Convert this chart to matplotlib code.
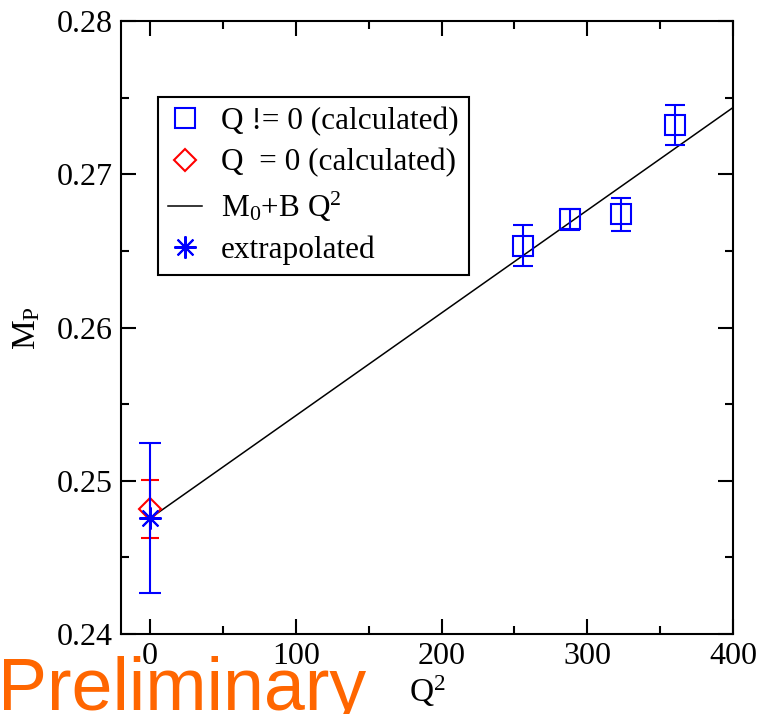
import matplotlib.pyplot as plt
from matplotlib.lines import Line2D
import numpy as np

# data
q2_calc = [256.0, 288.5, 323.5, 360.5]
mp_calc = [0.26535, 0.26705, 0.26738, 0.27320]
mp_calc_err = [0.00133, 0.00070, 0.00110, 0.00130]

q2_zero = [0.0]
mp_zero = [0.24815]
mp_zero_err = [0.00190]

q2_extrap = [0.0]
mp_extrap = [0.24755]
mp_extrap_err = [0.00490]

fit_m0 = 0.24755
fit_b = 6.70e-5
fit_q2 = [0.0, 400.0]

plt.rcParams['font.family'] = ['Liberation Serif', 'DejaVu Serif']
plt.rcParams['mathtext.fontset'] = 'custom'
plt.rcParams['mathtext.rm'] = 'Liberation Serif'
plt.rcParams['mathtext.it'] = 'Liberation Serif:italic'

fig = plt.figure(figsize=(7.59, 7.14), dpi=100)
ax = fig.add_axes([0.1594, 0.1120, 0.8063, 0.8586])

blue = '#0000ff'
red = '#ff0000'

# fit line
fit_y = [fit_m0 + fit_b * q for q in fit_q2]
ax.plot(fit_q2, fit_y, color='black', linewidth=1.1, zorder=2)

# calculated points with Q != 0
ax.errorbar(q2_calc, mp_calc, yerr=mp_calc_err, fmt='s', color=blue,
            markerfacecolor='none', markeredgewidth=1.5, markersize=14.5,
            elinewidth=1.5, capsize=7.5, capthick=1.5, zorder=3)

# calculated Q = 0
ax.errorbar(q2_zero, mp_zero, yerr=mp_zero_err, fmt='D', color=red,
            markerfacecolor='none', markeredgewidth=1.5, markersize=11.5,
            elinewidth=1.5, capsize=6.5, capthick=1.5, zorder=3)

# extrapolated value
ax.errorbar(q2_extrap, mp_extrap, yerr=mp_extrap_err, fmt='none', ecolor=blue,
            elinewidth=1.5, capsize=8, capthick=1.5, zorder=4)
ax.plot(q2_extrap, mp_extrap, linestyle='none', marker=(8, 2, 0), color=blue,
        markersize=16, markeredgewidth=1.5, zorder=5)

ax.set_xlim(-20, 400)
ax.set_ylim(0.24, 0.28)
ax.set_xticks([0, 100, 200, 300, 400])
ax.set_xticks([50, 150, 250, 350], minor=True)
ax.set_yticks([0.24, 0.25, 0.26, 0.27, 0.28])
ax.set_yticks([0.245, 0.255, 0.265, 0.275], minor=True)
ax.set_yticklabels(['0.24', '0.25', '0.26', '0.27', '0.28'])

ax.tick_params(which='both', direction='in', top=True, right=True,
               labelsize=23, width=1.5)
ax.tick_params(which='major', length=11, pad=6)
ax.tick_params(which='minor', length=5.5)
for spine in ax.spines.values():
    spine.set_linewidth(1.5)

# axis labels placed by hand
fig.text(0.563, 0.032, r'Q$^{\mathrm{2}}$', fontsize=24, ha='center', va='center')
fig.text(0.035, 0.54, r'M$_{\mathrm{P}}$', fontsize=24, rotation=90,
         ha='center', va='center')

# legend
handles = [
    Line2D([], [], linestyle='none', marker='s', markerfacecolor='none',
           markeredgecolor=blue, markeredgewidth=1.5, markersize=14),
    Line2D([], [], linestyle='none', marker='D', markerfacecolor='none',
           markeredgecolor=red, markeredgewidth=1.5, markersize=11.5),
    Line2D([], [], color='black', linewidth=1.1),
    Line2D([], [], linestyle='none', marker=(8, 2, 0), color=blue,
           markersize=16, markeredgewidth=1.5),
]
labels = ['Q != 0 (calculated)', 'Q  = 0 (calculated)',
          r'M$_{\mathrm{0}}$+B Q$^{\mathrm{2}}$', 'extrapolated']
leg = ax.legend(handles, labels, loc='upper left',
                bbox_to_anchor=(0.0605, 0.876), borderaxespad=0,
                fontsize=22.5, handlelength=1.1, handletextpad=0.6,
                labelspacing=0.38, borderpad=0.32, fancybox=False,
                framealpha=1)
leg.get_frame().set_edgecolor('black')
leg.get_frame().set_linewidth(1.5)

# watermark
fig.text(-0.003, 0.006, 'Preliminary', color='#ff6600', fontsize=53,
         family='Liberation Sans', ha='left', va='baseline')

fig.savefig('out.png', dpi=100)
